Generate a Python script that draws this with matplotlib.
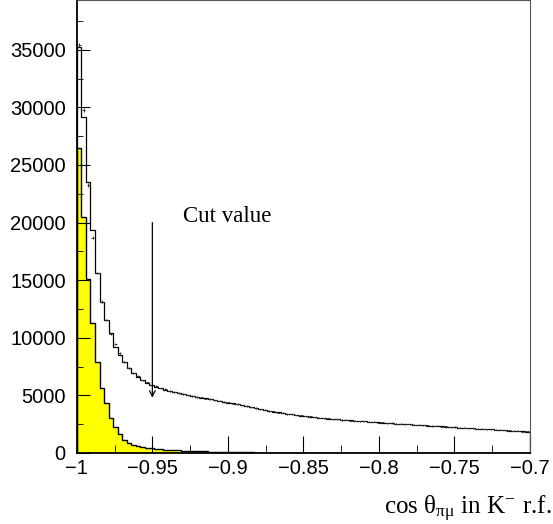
import numpy as np
import matplotlib.pyplot as plt
from matplotlib.ticker import MultipleLocator

plt.rcParams['mathtext.fontset'] = 'stix'

# binning: 100 bins of 0.003 between -1 and -0.7
edges = np.linspace(-1.0, -0.7, 101)
centers = 0.5 * (edges[:-1] + edges[1:])

# total (MC) histogram
mc = [35240, 29170, 23520, 19360, 15650, 13100, 11540, 10390, 9230, 8500,
      7920, 7380, 6970, 6620, 6340, 6100, 5900, 5760, 5630, 5510,
      5400, 5300, 5200, 5110, 5030, 4950, 4880, 4810, 4740, 4660,
      4590, 4520, 4450, 4380, 4320, 4250, 4160, 4080, 3990, 3900,
      3810, 3740, 3670, 3600, 3530, 3470, 3410, 3350, 3300, 3250,
      3200, 3150, 3110, 3060, 3020, 2980, 2950, 2920, 2890, 2860,
      2830, 2800, 2770, 2740, 2720, 2690, 2660, 2640, 2610, 2590,
      2560, 2540, 2510, 2480, 2460, 2430, 2410, 2380, 2360, 2330,
      2310, 2290, 2260, 2240, 2210, 2190, 2170, 2140, 2120, 2090,
      2070, 2050, 2020, 2000, 1980, 1950, 1930, 1900, 1880, 1860]

# data points with error bars
data = [35400, 29770, 23260, 18690, 15620, 13130, 11540, 10330, 9460, 8710,
        7920, 7400, 6930, 6650, 6300, 6120, 5880, 5790, 5600, 5530,
        5370, 5320, 5180, 5140, 5000, 4970, 4850, 4830, 4720, 4690,
        4560, 4540, 4430, 4400, 4290, 4270, 4140, 4100, 3970, 3920,
        3790, 3760, 3650, 3620, 3510, 3490, 3390, 3370, 3280, 3270,
        3180, 3170, 3090, 3080, 3000, 3000, 2930, 2940, 2870, 2880,
        2810, 2820, 2750, 2760, 2700, 2710, 2640, 2660, 2590, 2610,
        2540, 2560, 2490, 2500, 2440, 2450, 2390, 2400, 2340, 2350,
        2290, 2310, 2240, 2260, 2190, 2210, 2150, 2160, 2100, 2110,
        2050, 2070, 2000, 2020, 1960, 1970, 1910, 1920, 1860, 1870]

# yellow (background) histogram
bkg = [26470, 20480, 15100, 11280, 7900, 5640, 4340, 3040, 2260, 1650,
       1130, 870, 700, 600, 530, 470, 410, 360, 320, 290,
       260, 240, 220, 200, 185, 170, 160, 150, 140, 130,
       120, 115, 110, 105, 100, 95, 85, 70, 50, 40,
       30, 25, 20, 15, 12, 10, 8, 6, 5, 4,
       3, 2, 2, 1, 1, 0, 0, 0, 0, 0,
       0, 0, 0, 0, 0, 0, 0, 0, 0, 0,
       0, 0, 0, 0, 0, 0, 0, 0, 0, 0,
       0, 0, 0, 0, 0, 0, 0, 0, 0, 0,
       0, 0, 0, 0, 0, 0, 0, 0, 0, 0]

yticks = [0, 5000, 10000, 15000, 20000, 25000, 30000, 35000]
xticks = [-1, -0.95, -0.9, -0.85, -0.8, -0.75, -0.7]

fig = plt.figure(figsize=(5.53, 5.24), dpi=100)
ax = fig.add_axes([0.139, 0.1355, 0.819, 0.864])

ax.stairs(bkg, edges, fill=True, color='#ffff00', lw=0)
ax.stairs(bkg, edges, color='black', lw=1.0)
ax.stairs(mc, edges, color='black', lw=0.9)
ax.errorbar(centers, data, yerr=np.sqrt(data), xerr=0.001, fmt='none',
            ecolor='#333333', elinewidth=0.7)

ax.annotate('', xy=(-0.95, 4800), xytext=(-0.95, 20000),
            arrowprops=dict(arrowstyle='->', lw=0.9, color='black',
                            mutation_scale=10, shrinkA=0, shrinkB=0))
ax.text(-0.9298, 20050, 'Cut value', family='Liberation Serif', fontsize=16.5)

ax.set_xlim(-1, -0.7)
ax.set_ylim(0, 39300)
ax.set_xticks(xticks)
ax.set_xticklabels(['\u22121', '\u22120.95', '\u22120.9', '\u22120.85',
                    '\u22120.8', '\u22120.75', '\u22120.7'])
ax.set_yticks(yticks)
ax.xaxis.set_minor_locator(MultipleLocator(0.025))
ax.yaxis.set_minor_locator(MultipleLocator(2500))
ax.tick_params(which='both', direction='in', top=False, right=False)
ax.tick_params(axis='x', which='major', length=12, pad=4)
ax.tick_params(axis='x', which='minor', length=6)
ax.tick_params(axis='y', which='major', length=9, pad=8)
ax.tick_params(axis='y', which='minor', length=4.5)
for lab in ax.get_xticklabels() + ax.get_yticklabels():
    lab.set_family('Liberation Sans')
    lab.set_fontsize(14.5)
for s in ['left', 'bottom']:
    ax.spines[s].set_linewidth(1.3)
for s in ['top', 'right']:
    ax.spines[s].set_linewidth(0.8)
    ax.spines[s].set_color('#555555')

fig.text(0.997, 1 - 509 / 524, r'cos $\mathregular{\theta_{\pi\mu}}$ in K$^{\mathregular{-}}$ r.f.',
         family='Liberation Serif', fontsize=18, ha='right', va='center')

fig.savefig('out.png', dpi=100)
